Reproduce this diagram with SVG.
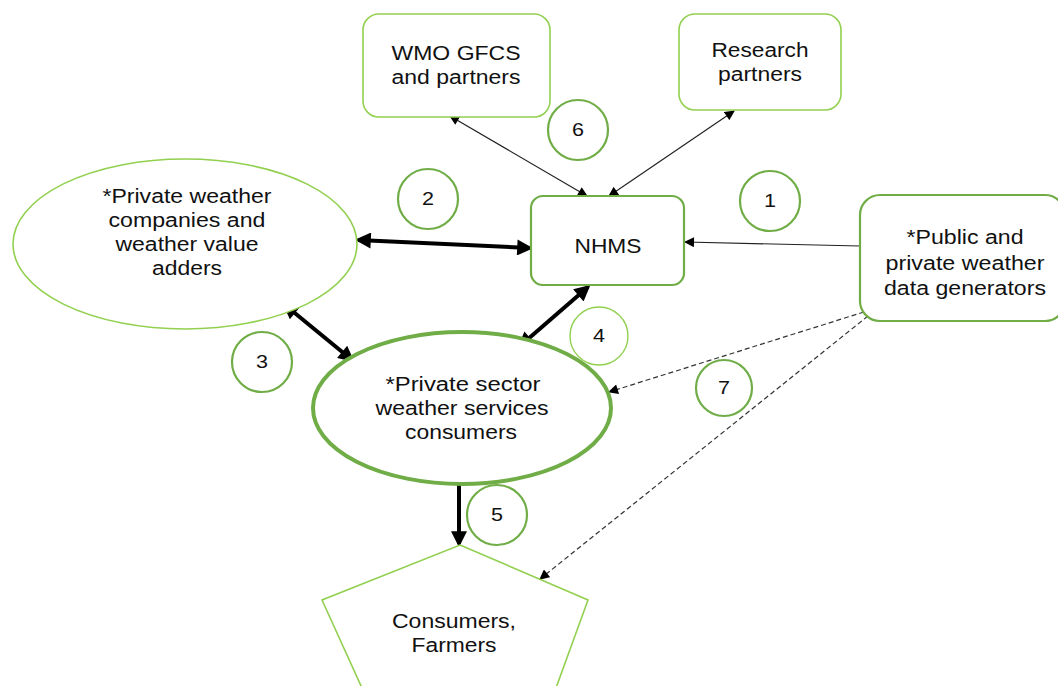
<svg xmlns="http://www.w3.org/2000/svg" width="1058" height="686" viewBox="0 0 1058 686">
<style>
.box{fill:#fff;stroke:#92D050;stroke-width:1.6}
.box2{fill:#fff;stroke:#70AD47;stroke-width:2.2}
.num{fill:#fff;stroke:#70AD47;stroke-width:2.2}
.t{font-family:"Liberation Sans",Arial,sans-serif;font-size:19.5px;fill:#111;text-anchor:middle}
.d{font-family:"Liberation Sans",Arial,sans-serif;font-size:18px;fill:#111;text-anchor:middle}
.thin{stroke:#222;stroke-width:1.2;fill:none}
.thick{stroke:#000;stroke-width:4;fill:none}
.dash{stroke:#333;stroke-width:1.2;fill:none;stroke-dasharray:5 3}
</style>
<defs>
<marker id="ah" viewBox="0 0 10 10" refX="9" refY="5" markerWidth="11" markerHeight="10" markerUnits="userSpaceOnUse" orient="auto-start-reverse"><path d="M0,0 L10,5 L0,10 z" fill="#000"/></marker>
<marker id="ahT" viewBox="0 0 10 10" refX="8" refY="5" markerWidth="18" markerHeight="16" markerUnits="userSpaceOnUse" orient="auto-start-reverse"><path d="M0,0 L10,5 L0,10 z" fill="#000"/></marker>
</defs>
<rect width="1058" height="686" fill="#fff"/>
<g id="connectors">
<line class="thin" x1="450" y1="116" x2="587" y2="196" marker-start="url(#ah)" marker-end="url(#ah)"/>
<line class="thin" x1="734" y1="111" x2="609" y2="196" marker-start="url(#ah)" marker-end="url(#ah)"/>
<line class="thick" x1="358" y1="240" x2="530" y2="248" marker-start="url(#ahT)" marker-end="url(#ahT)"/>
<line class="thick" x1="285" y1="305" x2="352" y2="360" marker-start="url(#ahT)" marker-end="url(#ahT)"/>
<line class="thick" x1="588" y1="287" x2="520" y2="346" marker-start="url(#ahT)" marker-end="url(#ahT)"/>
<line class="thin" x1="860" y1="246" x2="685" y2="242" marker-end="url(#ah)"/>
<line class="dash" x1="864" y1="312" x2="609" y2="392" marker-end="url(#ah)"/>
<line class="dash" x1="868" y1="316" x2="540" y2="579" marker-end="url(#ah)"/>
<line class="thick" x1="459" y1="484" x2="459" y2="544" marker-end="url(#ahT)"/>
</g>
<g id="wmo"><rect class="box" x="363" y="14" width="187" height="103" rx="16"/><text class="t" x="456" y="60" textLength="129" lengthAdjust="spacingAndGlyphs">WMO GFCS</text><text class="t" x="456" y="84" textLength="129" lengthAdjust="spacingAndGlyphs">and partners</text></g>
<g id="research"><rect class="box" x="679" y="14" width="162" height="96" rx="16"/><text class="t" x="760" y="57" textLength="97" lengthAdjust="spacingAndGlyphs">Research</text><text class="t" x="760" y="81" textLength="84" lengthAdjust="spacingAndGlyphs">partners</text></g>
<g id="nhms"><rect class="box2" x="531" y="196" width="153" height="89" rx="12"/><text class="t" x="608" y="253" textLength="67" lengthAdjust="spacingAndGlyphs">NHMS</text></g>
<g id="public"><rect class="box2" x="860" y="195" width="205" height="126" rx="20"/><text class="t" x="965" y="244" textLength="117" lengthAdjust="spacingAndGlyphs">*Public and</text><text class="t" x="965" y="270" textLength="159" lengthAdjust="spacingAndGlyphs">private weather</text><text class="t" x="965" y="295" textLength="162" lengthAdjust="spacingAndGlyphs">data generators</text></g>
<g id="privateCompanies"><ellipse class="box" cx="185" cy="244" rx="172" ry="85"/><text class="t" x="187" y="203" textLength="169" lengthAdjust="spacingAndGlyphs">*Private weather</text><text class="t" x="187" y="227" textLength="157" lengthAdjust="spacingAndGlyphs">companies and</text><text class="t" x="187" y="251" textLength="143" lengthAdjust="spacingAndGlyphs">weather value</text><text class="t" x="187" y="275" textLength="70" lengthAdjust="spacingAndGlyphs">adders</text></g>
<g id="consumersPrivate"><ellipse cx="462" cy="408" rx="149" ry="76" fill="#fff" stroke="#70AD47" stroke-width="4"/><text class="t" x="463" y="391" textLength="155" lengthAdjust="spacingAndGlyphs">*Private sector</text><text class="t" x="462" y="415" textLength="173" lengthAdjust="spacingAndGlyphs">weather services</text><text class="t" x="461" y="439" textLength="112" lengthAdjust="spacingAndGlyphs">consumers</text></g>
<g id="consumersFarmers"><polygon class="box" points="460,545 588,600 548,710 372,710 322,600"/><text class="t" x="454" y="628" textLength="124" lengthAdjust="spacingAndGlyphs">Consumers,</text><text class="t" x="454" y="652" textLength="85" lengthAdjust="spacingAndGlyphs">Farmers</text></g>
<g id="n1"><circle class="num" cx="770" cy="201" r="30"/><text class="d" x="770" y="207" textLength="12" lengthAdjust="spacingAndGlyphs">1</text></g>
<g id="n2"><circle class="num" cx="428" cy="199" r="30"/><text class="d" x="428" y="205" textLength="12" lengthAdjust="spacingAndGlyphs">2</text></g>
<g id="n3"><circle class="num" cx="262" cy="362" r="30"/><text class="d" x="262" y="368" textLength="12" lengthAdjust="spacingAndGlyphs">3</text></g>
<g id="n4"><circle cx="599" cy="336" r="29" fill="#fff" stroke="#92D050" stroke-width="1.4"/><text class="d" x="599" y="342" textLength="12" lengthAdjust="spacingAndGlyphs">4</text></g>
<g id="n5"><circle class="num" cx="497" cy="515" r="30"/><text class="d" x="497" y="521" textLength="12" lengthAdjust="spacingAndGlyphs">5</text></g>
<g id="n6"><circle class="num" cx="578" cy="130" r="30"/><text class="d" x="578" y="136" textLength="12" lengthAdjust="spacingAndGlyphs">6</text></g>
<g id="n7"><circle class="num" cx="724" cy="388" r="28"/><text class="d" x="724" y="394" textLength="12" lengthAdjust="spacingAndGlyphs">7</text></g>
</svg>
